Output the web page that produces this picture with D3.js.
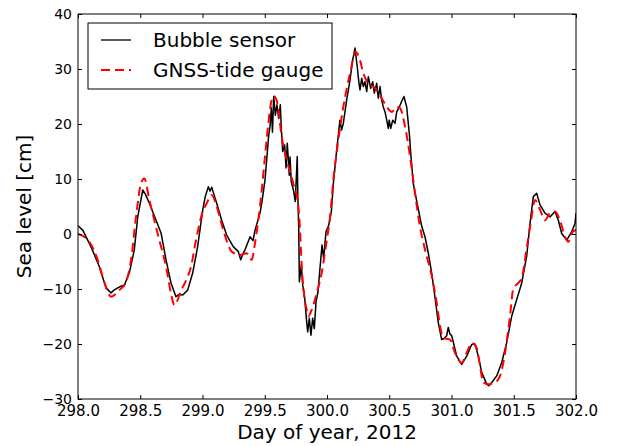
<!DOCTYPE html>
<html>
<head>
<meta charset="utf-8">
<script src="https://cdn.jsdelivr.net/npm/d3@7"></script>
<style>
  body { margin: 0; background: #fff; }
  svg { display: block; font-family: "DejaVu Sans", sans-serif; }
</style>
</head>
<body>
<div id="chart"></div>
<script>
// Sea level: bubble sensor vs GNSS-tide gauge, days 298-302 of 2012
var seriesNames = ['Bubble sensor', 'GNSS-tide gauge'];
var xTicks = [298.0, 298.5, 299.0, 299.5, 300.0, 300.5, 301.0, 301.5, 302.0];
var yTicks = [-30, -20, -10, 0, 10, 20, 30, 40];

// [day of year, sea level in cm]
var bubbleSensor = [
  [298.000, 1.5], [298.038, 0.7], [298.104, -2.3], [298.171, -5.9], [298.225, -9.8],
  [298.265, -10.7], [298.289, -10.2], [298.319, -9.8], [298.345, -9.5], [298.372, -9.3],
  [298.412, -7.1], [298.452, -2.9], [298.480, 3.1], [298.520, 8.0], [298.542, 7.2],
  [298.573, 5.6], [298.627, 2.5], [298.667, 0.2], [298.707, -4.7], [298.747, -8.9],
  [298.787, -11.4], [298.811, -11.0], [298.841, -11.1], [298.881, -10.2], [298.921, -7.1],
  [298.961, -2.3], [299.002, 4.4], [299.022, 6.8], [299.047, 8.6], [299.060, 7.8],
  [299.074, 8.5], [299.092, 7.2], [299.114, 5.6], [299.154, 2.5], [299.194, -0.2],
  [299.247, -2.3], [299.288, -3.2], [299.307, -4.7], [299.325, -3.6], [299.341, -2.9],
  [299.382, -0.5], [299.406, -1.2], [299.422, 0.7], [299.462, 3.8], [299.478, 5.9],
  [299.502, 9.8], [299.532, 18.0], [299.542, 19.5], [299.553, 22.9], [299.562, 18.5],
  [299.572, 25.0], [299.585, 21.6], [299.598, 23.5], [299.612, 21.0], [299.625, 23.5],
  [299.633, 19.2], [299.644, 15.0], [299.660, 16.2], [299.671, 12.0], [299.681, 16.5],
  [299.687, 14.4], [299.697, 10.7], [299.703, 14.0], [299.713, 9.5], [299.733, 7.7],
  [299.745, 5.9], [299.761, 14.1], [299.766, 6.5], [299.773, 1.0], [299.778, -8.7],
  [299.794, -5.6], [299.805, -9.3], [299.821, -11.7], [299.834, -15.3], [299.845, -17.8],
  [299.858, -15.3], [299.871, -18.4], [299.885, -15.3], [299.898, -17.2], [299.912, -12.3],
  [299.928, -10.5], [299.941, -6.9], [299.960, -2.0], [299.973, -4.4], [299.992, 0.4],
  [300.014, 1.6], [300.035, 4.1], [300.051, 9.2], [300.078, 15.3], [300.104, 20.7],
  [300.117, 18.9], [300.131, 20.1], [300.158, 24.4], [300.185, 28.0], [300.206, 31.6],
  [300.225, 33.8], [300.243, 30.4], [300.257, 27.4], [300.265, 26.2], [300.279, 28.3],
  [300.292, 26.8], [300.305, 27.7], [300.319, 25.9], [300.332, 28.6], [300.351, 26.5],
  [300.367, 27.7], [300.380, 25.6], [300.399, 27.4], [300.412, 24.7], [300.426, 26.8],
  [300.439, 24.4], [300.452, 23.1], [300.466, 22.2], [300.480, 20.7], [300.492, 19.2],
  [300.500, 20.7], [300.512, 19.2], [300.528, 20.7], [300.546, 20.1], [300.560, 22.2],
  [300.581, 23.1], [300.599, 24.1], [300.618, 25.0], [300.640, 23.1], [300.661, 18.3],
  [300.675, 14.0], [300.693, 9.2], [300.729, 5.0], [300.761, 1.4], [300.787, -0.5],
  [300.814, -3.5], [300.841, -7.1], [300.868, -11.6], [300.894, -16.1], [300.921, -19.2],
  [300.940, -19.0], [300.961, -18.5], [300.974, -17.0], [300.988, -18.2], [301.002, -18.5],
  [301.042, -22.2], [301.082, -23.7], [301.122, -22.2], [301.162, -20.1], [301.189, -20.0],
  [301.215, -22.2], [301.243, -25.2], [301.283, -27.3], [301.301, -27.6], [301.323, -27.0],
  [301.363, -25.8], [301.403, -23.4], [301.443, -19.8], [301.484, -14.9], [301.524, -11.9],
  [301.564, -8.9], [301.604, -4.0], [301.631, 2.0], [301.657, 6.8], [301.684, 7.4],
  [301.711, 5.3], [301.751, 3.8], [301.791, 3.1], [301.831, 4.1], [301.858, 2.5],
  [301.885, 0.1], [301.925, -1.1], [301.965, 0.4], [301.992, 1.9], [302.000, 3.8]
];

var gnssTideGauge = [
  [298.000, 0.0], [298.091, -1.4], [298.158, -4.7], [298.211, -8.7], [298.265, -11.4],
  [298.332, -10.2], [298.386, -8.7], [298.426, -4.7], [298.466, 3.1], [298.506, 9.2],
  [298.533, 10.1], [298.573, 6.2], [298.653, -1.1], [298.707, -5.9], [298.747, -10.8],
  [298.774, -12.9], [298.833, -10.0], [298.873, -8.2], [298.908, -5.9], [298.948, -1.1],
  [299.002, 4.1], [299.034, 5.6], [299.074, 7.1], [299.114, 5.0], [299.167, 0.7],
  [299.235, -3.2], [299.301, -3.8], [299.355, -3.5], [299.395, -4.7], [299.422, -1.6],
  [299.448, 2.5], [299.476, 8.0], [299.502, 14.1], [299.529, 20.1], [299.556, 24.4],
  [299.574, 25.1], [299.601, 23.8], [299.636, 17.7], [299.676, 13.5], [299.729, 9.2],
  [299.770, 5.0], [299.783, 0.9], [299.797, -5.9], [299.815, -10.8], [299.837, -13.8],
  [299.850, -15.0], [299.877, -13.8], [299.917, -10.8], [299.957, -7.1], [299.998, -1.1],
  [300.024, 3.0], [300.051, 9.8], [300.091, 17.1], [300.131, 23.1], [300.185, 29.2],
  [300.231, 33.1], [300.265, 31.6], [300.292, 29.2], [300.332, 27.4], [300.386, 26.5],
  [300.439, 24.7], [300.480, 23.1], [300.520, 22.2], [300.560, 23.1], [300.586, 22.9],
  [300.627, 19.5], [300.667, 14.1], [300.707, 7.4], [300.747, 1.3], [300.787, -2.8],
  [300.841, -7.6], [300.881, -12.5], [300.908, -16.7], [300.934, -18.9], [300.988, -19.2],
  [301.028, -21.6], [301.082, -23.4], [301.122, -21.6], [301.162, -19.8], [301.202, -20.7],
  [301.229, -24.0], [301.255, -27.0], [301.296, -27.3], [301.349, -27.0], [301.390, -25.8],
  [301.430, -21.6], [301.470, -14.9], [301.496, -10.0], [301.537, -8.9], [301.564, -8.0],
  [301.604, -2.6], [301.636, 2.0], [301.671, 6.2], [301.711, 4.4], [301.751, 2.5],
  [301.791, 3.8], [301.831, 4.1], [301.871, 2.5], [301.912, -0.5], [301.938, -1.4],
  [301.965, 0.1], [301.992, 0.7], [302.000, 0.5]
];

var margin = { top: 14, right: 46, bottom: 47, left: 78 },
    width = 622 - margin.left - margin.right,
    height = 446 - margin.top - margin.bottom;

var svg = d3.select('#chart')
  .append('svg')
  .attr('width', 622)
  .attr('height', 446)
  .append('g')
  .attr('transform', 'translate(' + margin.left + ',' + margin.top + ')');

var x = d3.scaleLinear().domain([298, 302]).range([0, width]);
var y = d3.scaleLinear().domain([-30, 40]).range([height, 0]);

svg.append('clipPath').attr('id', 'plot-clip')
  .append('rect').attr('width', width).attr('height', height);

var line = d3.line()
  .x(function(d) { return x(d[0]); })
  .y(function(d) { return y(d[1]); });

// bubble sensor (black, noisy)
svg.append('path')
  .datum(bubbleSensor)
  .attr('clip-path', 'url(#plot-clip)')
  .attr('fill', 'none')
  .attr('stroke', '#000')
  .attr('stroke-width', 1.5)
  .attr('stroke-linejoin', 'round')
  .attr('d', line);

// GNSS tide gauge (red dashed)
svg.append('path')
  .datum(gnssTideGauge)
  .attr('clip-path', 'url(#plot-clip)')
  .attr('fill', 'none')
  .attr('stroke', '#ff0000')
  .attr('stroke-width', 2)
  .attr('stroke-dasharray', '9,5')
  .attr('d', line.curve(d3.curveMonotoneX));

// axes, ticks pointing inward on all four sides
function styleAxis(g) {
  g.select('.domain').remove();
  g.selectAll('.tick line').attr('stroke', '#000');
  g.selectAll('.tick text').attr('fill', '#000');
}

svg.append('g')
  .attr('transform', 'translate(0,' + height + ')')
  .call(d3.axisBottom(x).tickValues(xTicks).tickFormat(d3.format('.1f'))
    .tickSizeInner(-4).tickSizeOuter(0).tickPadding(6))
  .call(styleAxis)
  .selectAll('text').style('font-size', '15px').style('font-family', '"DejaVu Sans", sans-serif');

svg.append('g')
  .call(d3.axisLeft(y).tickValues(yTicks)
    .tickSizeInner(-4).tickSizeOuter(0).tickPadding(6))
  .call(styleAxis)
  .selectAll('text').style('font-size', '14px').style('font-family', '"DejaVu Sans", sans-serif');

svg.append('g')
  .call(d3.axisTop(x).tickValues(xTicks).tickFormat('').tickSizeInner(-4).tickSizeOuter(0))
  .call(styleAxis);

svg.append('g')
  .attr('transform', 'translate(' + width + ',0)')
  .call(d3.axisRight(y).tickValues(yTicks).tickFormat('').tickSizeInner(-4).tickSizeOuter(0))
  .call(styleAxis);

// frame
svg.append('rect')
  .attr('width', width)
  .attr('height', height)
  .attr('fill', 'none')
  .attr('stroke', '#000')
  .attr('stroke-width', 1);

// axis labels
svg.append('text')
  .attr('x', width / 2)
  .attr('y', height + 40)
  .attr('text-anchor', 'middle')
  .style('font-size', '20px')
  .text('Day of year, 2012');

svg.append('text')
  .attr('transform', 'translate(' + (31 - margin.left) + ',' + (height / 2) + ') rotate(-90)')
  .attr('text-anchor', 'middle')
  .style('font-size', '20px')
  .text('Sea level [cm]');

// legend
var legend = svg.append('g').attr('transform', 'translate(10,9)');
legend.append('rect')
  .attr('width', 244)
  .attr('height', 66)
  .attr('fill', '#fff')
  .attr('stroke', '#000')
  .attr('stroke-width', 1);

var legendStyles = [
  { stroke: '#000', width: 1.3, dash: null },
  { stroke: '#ff0000', width: 2, dash: '9,5' }
];

seriesNames.forEach(function(name, i) {
  var row = legend.append('g').attr('transform', 'translate(0,' + (17 + i * 30) + ')');
  row.append('line')
    .attr('x1', 13).attr('x2', 43)
    .attr('stroke', legendStyles[i].stroke)
    .attr('stroke-width', legendStyles[i].width)
    .attr('stroke-dasharray', legendStyles[i].dash);
  row.append('text')
    .attr('x', 65)
    .attr('y', 7)
    .style('font-size', '20px')
    .text(name);
});
</script>
</body>
</html>
